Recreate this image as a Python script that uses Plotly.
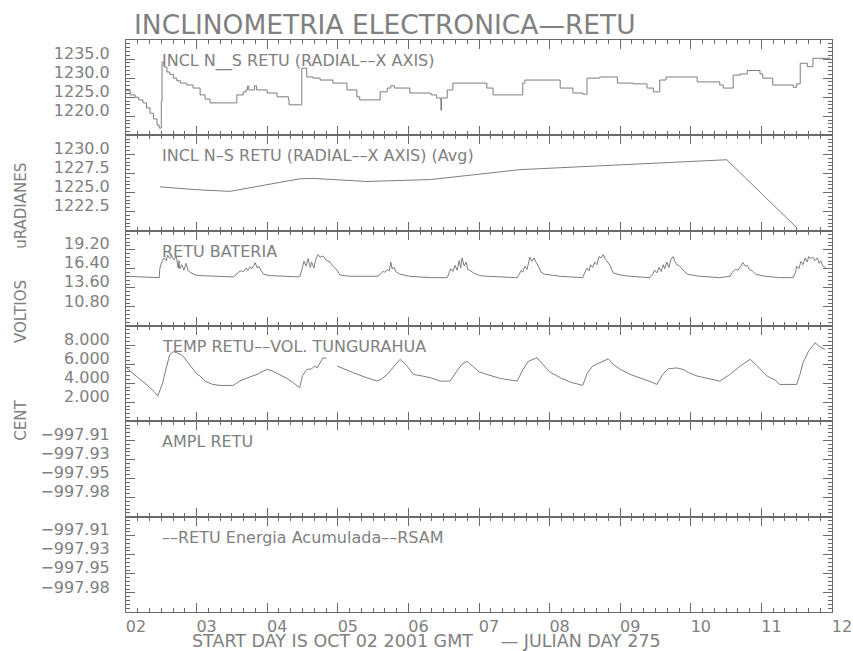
import plotly.graph_objects as go
from plotly.subplots import make_subplots

# ---------------- data ----------------
title_text = "INCLINOMETRIA ELECTRONICA\u2014RETU"
panel_titles = [
    "INCL N__S RETU (RADIAL\u2013\u2013X AXIS)",
    "INCL N\u2013S RETU (RADIAL\u2013\u2013X AXIS) (Avg)",
    "RETU BATERIA",
    "TEMP RETU\u2013\u2013VOL. TUNGURAHUA",
    "AMPL RETU",
    "\u2013\u2013RETU Energia Acumulada\u2013\u2013RSAM",
]
axis_titles = ["uRADIANES", "VOLTIOS", "CENT"]
x_title = "START DAY IS OCT 02 2001 GMT\u00a0\u00a0\u00a0\u00a0\u00a0\u2014 JULIAN DAY 275"
day_ticks = [2, 3, 4, 5, 6, 7, 8, 9, 10, 11, 12]
day_labels = ["02", "03", "04", "05", "06", "07", "08", "09", "10", "11", "12"]

incl_day = [2.00, 2.03, 2.06, 2.13, 2.18, 2.24, 2.29, 2.34, 2.39, 2.44, 2.47, 2.50, 2.51, 2.54, 2.58,
            2.62, 2.67, 2.72, 2.77, 2.86, 2.95, 3.05, 3.12, 3.19, 3.52, 3.57, 3.66, 3.70, 3.72,
            3.74, 3.80, 3.82, 3.85, 3.94, 4.00, 4.14, 4.30, 4.31, 4.47, 4.49, 4.56, 4.65, 4.75,
            4.93, 5.13, 5.27, 5.31, 5.56, 5.60, 5.70, 5.75, 5.80, 6.02, 6.31, 6.32, 6.40, 6.46,
            6.47, 6.55, 6.63, 7.06, 7.11, 7.20, 7.58, 7.62, 7.65, 8.05, 8.15, 8.33, 8.47, 8.53,
            8.71, 8.90, 8.96, 9.18, 9.38, 9.47, 9.56, 9.65, 9.95, 10.09, 10.41, 10.46, 10.60,
            10.70, 10.80, 10.98, 11.02, 11.16, 11.45, 11.50, 11.55, 11.65, 11.73, 11.97]
incl_val = [1226.8, 1226.8, 1225.6, 1225.0, 1224.3, 1223.5, 1222.2, 1220.8, 1219.3, 1217.7, 1216.9,
            1224.0, 1234.2, 1232.9, 1231.6, 1231.0, 1230.0, 1229.3, 1228.7, 1228.2, 1227.4, 1225.6,
            1224.5, 1223.5, 1223.5, 1225.6, 1226.4, 1226.9, 1227.9, 1226.9, 1226.9, 1228.0, 1226.9,
            1226.9, 1226.1, 1225.1, 1224.3, 1223.0, 1223.0, 1232.6, 1230.3, 1230.0, 1229.5, 1228.7,
            1226.9, 1225.1, 1224.3, 1224.3, 1226.4, 1227.4, 1228.0, 1227.4, 1226.1, 1226.1, 1225.6,
            1224.8, 1221.6, 1224.8, 1226.9, 1228.7, 1228.7, 1227.4, 1225.6, 1225.6, 1228.7, 1229.5,
            1229.5, 1227.4, 1226.1, 1225.8, 1230.0, 1230.3, 1230.3, 1228.7, 1228.5, 1227.4, 1226.4,
            1229.5, 1230.3, 1230.3, 1229.0, 1228.2, 1227.4, 1230.8, 1231.1, 1232.0, 1231.1, 1230.0,
            1228.2, 1227.6, 1228.5, 1233.9, 1233.0, 1235.2, 1235.4]

avg_day = [2.48, 2.95, 3.47, 4.46, 4.65, 5.41, 6.31, 7.58, 8.71, 9.95, 10.51, 11.02, 11.50]
avg_val = [1225.75, 1225.4, 1225.15, 1226.8, 1226.85, 1226.45, 1226.7, 1228.0, 1228.5, 1229.0,
           1229.3, 1224.7, 1220.4]

bat_day = [2.01, 2.44, 2.47, 2.48, 2.51, 2.54, 2.57, 2.59, 2.62, 2.65, 2.68, 2.71, 2.74, 2.75, 2.76,
           2.79, 2.82, 2.85, 2.88, 2.91, 2.98, 3.05, 3.29, 3.52, 3.56, 3.59, 3.63, 3.67, 3.70, 3.73,
           3.76, 3.78, 3.81, 3.83, 3.86, 3.88, 3.91, 3.95, 4.04, 4.18, 4.46, 4.49, 4.52, 4.55, 4.58,
           4.61, 4.63, 4.66, 4.69, 4.72, 4.75, 4.79, 4.83, 4.89, 4.93, 4.99, 5.03, 5.17, 5.56, 5.60,
           5.64, 5.67, 5.70, 5.73, 5.75, 5.77, 5.80, 5.82, 5.88, 6.02, 6.31, 6.55, 6.58, 6.60, 6.63,
           6.66, 6.69, 6.72, 6.74, 6.76, 6.79, 6.82, 6.84, 6.87, 6.92, 7.01, 7.11, 7.54, 7.57, 7.60,
           7.62, 7.65, 7.68, 7.71, 7.72, 7.75, 7.78, 7.81, 7.84, 7.88, 7.93, 8.15, 8.39, 8.47, 8.50,
           8.53, 8.56, 8.58, 8.61, 8.64, 8.67, 8.70, 8.73, 8.76, 8.79, 8.81, 8.86, 8.90, 9.00, 9.14,
           9.42, 9.46, 9.49, 9.52, 9.55, 9.58, 9.61, 9.63, 9.66, 9.69, 9.72, 9.75, 9.77, 9.80, 9.83,
           9.89, 9.95, 10.13, 10.41, 10.56, 10.58, 10.63, 10.67, 10.71, 10.74, 10.77, 10.80, 10.83,
           10.87, 10.92, 11.05, 11.26, 11.45, 11.48, 11.50, 11.53, 11.56, 11.59, 11.62, 11.65, 11.67,
           11.70, 11.73, 11.76, 11.79, 11.82, 11.84, 11.87, 11.91]
bat_val = [15.3, 15.1, 15.1, 16.5, 17.5, 18.0, 17.6, 18.4, 17.9, 18.2, 17.7, 18.3, 16.5, 17.6, 16.4,
           17.0, 16.2, 17.2, 16.1, 15.9, 15.5, 15.4, 15.3, 15.2, 15.5, 15.9, 16.1, 16.0, 16.5, 16.2,
           16.7, 16.4, 16.9, 17.3, 16.5, 16.8, 16.2, 15.6, 15.4, 15.3, 15.2, 16.2, 17.5, 16.8, 17.9,
           16.6, 17.4, 16.5, 17.8, 18.5, 18.1, 18.3, 17.7, 17.4, 16.8, 16.2, 15.5, 15.3, 15.3, 15.6,
           16.0, 15.9, 16.3, 16.1, 17.4, 16.4, 16.6, 16.0, 15.6, 15.3, 15.1, 15.1, 15.8, 16.4, 16.0,
           16.9, 16.2, 17.6, 16.5, 18.0, 16.8, 17.4, 16.3, 16.2, 15.8, 15.4, 15.3, 15.1, 15.6, 16.2,
           15.9, 16.8, 16.3, 17.6, 18.1, 17.5, 18.0, 17.3, 16.8, 15.9, 15.6, 15.3, 15.1, 15.1, 15.9,
           16.5, 16.1, 17.0, 16.6, 17.4, 17.0, 18.2, 18.0, 18.5, 17.8, 17.6, 16.8, 15.8, 15.5, 15.3,
           15.1, 15.6, 16.2, 15.8, 16.6, 16.0, 17.0, 16.4, 17.4, 16.6, 17.8, 18.2, 17.6, 17.0, 16.9,
           16.2, 15.6, 15.3, 15.1, 15.3, 15.8, 16.3, 16.2, 16.8, 17.3, 16.8, 16.9, 16.3,
           16.1, 15.6, 15.3, 15.1, 15.1, 15.8, 16.8, 16.4, 17.5, 17.0, 18.0, 17.4, 18.2,
           17.9, 18.1, 17.6, 18.0, 17.2, 17.6, 16.8, 16.6]

tmp_day = [2.01, 2.10, 2.20, 2.27, 2.34, 2.40, 2.45, 2.52, 2.57, 2.62, 2.67, 2.72, 2.80, 2.86, 2.93,
           3.00, 3.05, 3.12, 3.23, 3.35, 3.52, 3.61, 3.70, 3.80, 3.88, 3.95, 4.00, 4.07, 4.18, 4.28,
           4.37, 4.46, 4.50, 4.56, 4.63, 4.67, 4.71, 4.79, 4.84, 4.86, 4.99, 5.10, 5.22, 5.40, 5.56,
           5.63, 5.70, 5.80, 5.88, 5.97, 6.07, 6.20, 6.31, 6.45, 6.59, 6.68, 6.76, 6.83, 6.92, 7.00,
           7.11, 7.30, 7.54, 7.62, 7.70, 7.82, 7.90, 8.00, 8.15, 8.30, 8.47, 8.53, 8.61, 8.70, 8.83,
           8.90, 9.00, 9.15, 9.32, 9.45, 9.52, 9.60, 9.68, 9.80, 9.89, 9.97, 10.09, 10.25, 10.41,
           10.55, 10.70, 10.84, 10.93, 11.08, 11.20, 11.26, 11.40, 11.50, 11.55, 11.59, 11.67,
           11.76, 11.83, 11.90]
tmp_val = [5.6, 5.0, 4.4, 4.0, 3.53, 3.1, 2.65, 4.05, 5.6, 7.0, 7.3, 7.2, 6.9, 6.3, 5.6,
           5.0, 4.75, 4.2, 3.87, 3.75, 3.77, 4.22, 4.5, 4.75, 5.0, 5.3, 5.45, 5.3, 4.92, 4.5,
           4.05, 3.53, 4.8, 5.45, 5.5, 5.8, 5.62, 6.67, 6.6, None, 5.8, 5.45, 5.1, 4.6, 4.22,
           4.5, 4.92, 5.8, 6.5, 5.9, 4.92, 4.75, 4.58, 4.22, 4.22, 5.2, 6.0, 6.3, 5.7, 5.2,
           4.92, 4.5, 4.22, 5.4, 6.3, 6.67, 6.0, 5.2, 4.58, 4.1, 3.77, 5.0, 5.8, 6.1, 6.56,
           6.0, 5.45, 4.9, 4.47, 4.1, 3.87, 4.9, 5.52, 5.6, 5.45, 5.1, 4.75, 4.5, 4.22,
           4.9, 5.8, 6.5, 5.9, 4.75, 4.3, 3.87, 3.85, 3.87, 5.0, 6.15, 7.4,
           8.24, 7.8, 7.54]

# panels 5 and 6 : no valid samples in this period
ampl_day = [2.0, 12.0]
ampl_val = [None, None]
rsam_day = [2.0, 12.0]
rsam_val = [None, None]

y_ranges = [[1215, 1240], [1220, 1232.5], [8.0, 22.0], [0, 10], [0, 5], [0, 5]]
y_tickvals = [[1220, 1225, 1230, 1235], [1222.5, 1225, 1227.5, 1230],
              [10.8, 13.6, 16.4, 19.2], [2, 4, 6, 8], [1, 2, 3, 4], [1, 2, 3, 4]]
y_ticktext = [["1220.0", "1225.0", "1230.0", "1235.0"],
              ["1222.5", "1225.0", "1227.5", "1230.0"],
              ["10.80", "13.60", "16.40", "19.20"],
              ["2.000", "4.000", "6.000", "8.000"],
              ["\u2212997.98", "\u2212997.95", "\u2212997.93", "\u2212997.91"],
              ["\u2212997.98", "\u2212997.95", "\u2212997.93", "\u2212997.91"]]
y_minor = [1, 0.5, 0.56, 0.4, 0.2, 0.2]
x_range = [2, 12]

# ---------------- figure ----------------
GRAY = "#6a6a6a"
LINE = "#7d7d7d"
TXT = "#808080"
FONT = "DejaVu Sans"

fig = make_subplots(rows=6, cols=1, shared_xaxes=True, vertical_spacing=0)

line = dict(color=LINE, width=1)
fig.add_trace(go.Scatter(x=incl_day, y=incl_val, mode="lines",
                         line=dict(color=LINE, width=1, shape="hv")), row=1, col=1)
fig.add_trace(go.Scatter(x=avg_day, y=avg_val, mode="lines", line=line), row=2, col=1)
fig.add_trace(go.Scatter(x=bat_day, y=bat_val, mode="lines", line=line), row=3, col=1)
fig.add_trace(go.Scatter(x=tmp_day, y=tmp_val, mode="lines", line=line, connectgaps=False), row=4, col=1)
fig.add_trace(go.Scatter(x=ampl_day, y=ampl_val, mode="lines", line=line), row=5, col=1)
fig.add_trace(go.Scatter(x=rsam_day, y=rsam_val, mode="lines", line=line), row=6, col=1)

tickfont = dict(family=FONT, size=16, color=TXT)
for i in range(6):
    r = i + 1
    xa = dict(range=x_range, tickmode="linear", tick0=2, dtick=1,
              ticks="inside", ticklen=9, tickcolor=GRAY,
              showline=True, linecolor=GRAY, mirror="allticks",
              showgrid=False, zeroline=False,
              minor=dict(ticks="inside", ticklen=4, tick0=2, dtick=1 / 6, tickcolor=GRAY),
              showticklabels=(r == 6), tickfont=tickfont)
    if r == 6:
        xa["tickmode"] = "array"
        xa["tickvals"] = day_ticks
        xa["ticktext"] = day_labels
        xa["ticklabelshift"] = 10
    ya = dict(range=y_ranges[i], tickmode="array",
              tickvals=y_tickvals[i], ticktext=y_ticktext[i],
              ticks="inside", ticklen=9, tickcolor=GRAY,
              showline=True, linecolor=GRAY, mirror="allticks",
              showgrid=False, zeroline=False,
              minor=dict(ticks="inside", ticklen=4, tick0=y_ranges[i][0], dtick=y_minor[i],
                         tickcolor=GRAY),
              tickfont=tickfont, ticklabelshift=-6, ticklabelstandoff=12)
    fig.update_xaxes(row=r, col=1, **xa)
    fig.update_yaxes(row=r, col=1, **ya)

annotations = []
annotations.append(dict(text=title_text, xref="paper", yref="paper", x=0.008, y=1,
                        xanchor="left", yanchor="bottom", yshift=-2, showarrow=False,
                        font=dict(family=FONT, size=26.5, color=TXT)))
panel_top = [1.0, 5 / 6, 4 / 6, 3 / 6, 2 / 6, 1 / 6]
for t, yy in zip(panel_titles, panel_top):
    annotations.append(dict(text=t, xref="paper", yref="paper", x=0.048, y=yy,
                            xanchor="left", yanchor="top", yshift=-9, showarrow=False,
                            font=dict(family=FONT, size=16, color=TXT)))
for t, yy in zip(axis_titles, [0.7098, 0.526, 0.3357]):
    annotations.append(dict(text=t, xref="paper", yref="paper", x=-0.149, y=yy,
                            xanchor="center", yanchor="middle", textangle=-90, showarrow=False,
                            font=dict(family=FONT, size=15, color=TXT)))
annotations.append(dict(text=x_title, xref="paper", yref="paper", x=0.09, y=0,
                        xanchor="left", yanchor="top", yshift=-17, showarrow=False,
                        font=dict(family=FONT, size=17.5, color=TXT)))

fig.update_layout(template="none", width=853, height=651,
                  margin=dict(l=126, r=21, t=40, b=39),
                  showlegend=False, annotations=annotations)

fig.write_html("out.html", config={"displayModeBar": False},
               post_script="document.body.style.margin='0';document.body.style.overflow='hidden';")
